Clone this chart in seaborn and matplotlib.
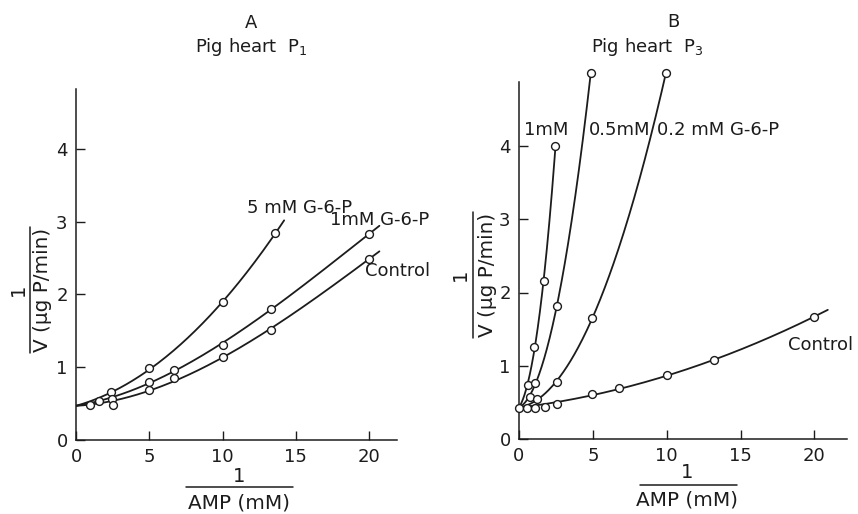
import numpy as np
import pandas as pd
import matplotlib
matplotlib.use("Agg")
import matplotlib.pyplot as plt
import seaborn as sns
from matplotlib.lines import Line2D

# ---------------- data ----------------
# Panel A: Pig heart P1
a_x_5mM = [1.6, 2.4, 5.0, 10.0, 13.6]
a_y_5mM = [0.54, 0.66, 0.99, 1.89, 2.84]
a_x_1mM = [2.45, 5.0, 6.7, 10.0, 13.3, 20.0]
a_y_1mM = [0.56, 0.80, 0.96, 1.31, 1.80, 2.83]
a_x_ctrl = [0.95, 2.5, 5.0, 6.7, 10.0, 13.3, 20.0]
a_y_ctrl = [0.48, 0.48, 0.68, 0.85, 1.14, 1.51, 2.49]
a_intercept = 0.47

# Panel B: Pig heart P3
b_x_1mM = [0.6, 1.04, 1.67, 2.47]
b_y_1mM = [0.74, 1.25, 2.16, 4.0]
b_x_05mM = [0.75, 1.08, 2.56, 4.86]
b_y_05mM = [0.57, 0.77, 1.81, 5.0]
b_x_02mM = [1.2, 2.55, 4.95, 9.95]
b_y_02mM = [0.54, 0.78, 1.65, 5.0]
b_x_ctrl = [0.0, 0.52, 1.08, 1.76, 2.6, 4.95, 6.76, 10.05, 13.2, 20.0]
b_y_ctrl = [0.43, 0.42, 0.42, 0.44, 0.48, 0.62, 0.70, 0.87, 1.08, 1.67]
b_intercept = 0.43

x_ticks = [0, 5, 10, 15, 20]
y_ticks = [0, 1, 2, 3, 4]

# ---------------- style ----------------
sns.set_theme(style="ticks")
plt.rcParams["font.family"] = ["DejaVu Sans"]
plt.rcParams["mathtext.fontset"] = "dejavusans"
INK = "#1c1c1c"

W, H = 858, 514
fig = plt.figure(figsize=(W / 100, H / 100), dpi=100)
fig.patch.set_facecolor("white")


def fpos(px, py):
    return px / W, 1 - py / H


def draw_series(ax, xs, ys, intercept, x_end, deg=2):
    fx = np.r_[0.0, xs]
    fy = np.r_[intercept, ys]
    w = np.r_[6.0, np.ones(len(xs))]
    coef = np.polyfit(fx, fy, deg, w=w)
    grid = np.linspace(0, x_end, 200)
    curve = pd.DataFrame({"x": grid, "y": np.polyval(coef, grid)})
    sns.lineplot(data=curve, x="x", y="y", ax=ax, color=INK, lw=1.3,
                 sort=False, estimator=None, zorder=2)
    pts = pd.DataFrame({"x": xs, "y": ys})
    sns.scatterplot(data=pts, x="x", y="y", ax=ax, marker="o", s=32,
                    facecolor="white", edgecolor=INK, linewidth=1.0,
                    zorder=3, clip_on=False)


def style_axes(ax, xmax, ymax, spine_top):
    ax.set_xlim(0, xmax)
    ax.set_ylim(0, ymax)
    ax.set_xticks(x_ticks)
    ax.set_yticks(y_ticks)
    ax.set_xlabel("")
    ax.set_ylabel("")
    for s in ["top", "right"]:
        ax.spines[s].set_visible(False)
    for s in ["left", "bottom"]:
        ax.spines[s].set_linewidth(1.1)
        ax.spines[s].set_color(INK)
    ax.spines["left"].set_bounds(0, spine_top)
    ax.tick_params(direction="in", length=6.5, width=1.0, color=INK,
                   labelsize=13, labelcolor=INK, pad=6)
    ax.set_facecolor("white")


def frac_label_y(px_one, px_line, px_text, py_center, py_top, py_bot):
    fig.text(*fpos(px_one, py_center), "1", rotation=90, ha="center",
             va="center", fontsize=14, color=INK)
    x0, y0 = fpos(px_line, py_top)
    x1, y1 = fpos(px_line, py_bot)
    fig.add_artist(Line2D([x0, x1], [y0, y1], color=INK, lw=1.1))
    fig.text(*fpos(px_text, py_center), "V (μg P/min)", rotation=90,
             ha="center", va="center", fontsize=14.4, color=INK)


def frac_label_x(px_center, py_one, py_line, py_text, px_l, px_r):
    fig.text(*fpos(px_center, py_one), "1", ha="center", va="center",
             fontsize=14, color=INK)
    x0, y0 = fpos(px_l, py_line)
    x1, y1 = fpos(px_r, py_line)
    fig.add_artist(Line2D([x0, x1], [y0, y1], color=INK, lw=1.1))
    fig.text(*fpos(px_center, py_text), "AMP (mM)", ha="center",
             va="center", fontsize=14.4, color=INK)


# ---------------- Panel A ----------------
axA = fig.add_axes([76 / W, 1 - 440 / H, (397 - 76) / W, (440 - 89) / H])
draw_series(axA, a_x_5mM, a_y_5mM, a_intercept, 14.2)
draw_series(axA, a_x_1mM, a_y_1mM, a_intercept, 20.7, deg=3)
draw_series(axA, a_x_ctrl, a_y_ctrl, a_intercept, 20.7, deg=3)
style_axes(axA, 21.9, 4.82, 4.82)
axA.text(11.7, 3.18, "5 mM G-6-P", fontsize=13, ha="left", va="center",
         color=INK, clip_on=False)
axA.text(17.3, 3.02, "1mM G-6-P", fontsize=13, ha="left", va="center",
         color=INK, clip_on=False)
axA.text(19.7, 2.32, "Control", fontsize=13, ha="left", va="center",
         color=INK, clip_on=False)

fig.text(*fpos(251, 23), "A", ha="center", va="center", fontsize=13, color=INK)
fig.text(*fpos(251, 47), "Pig heart  P$_1$", ha="center", va="center",
         fontsize=13, color=INK)
frac_label_y(18, 30, 43, 290, 227, 353)
frac_label_x(239, 477, 487, 503, 186, 293)

# ---------------- Panel B ----------------
b_ymax = 5.1
axB = fig.add_axes([519 / W, 1 - 439 / H, (847 - 519) / W, 73.25 * b_ymax / H])
draw_series(axB, b_x_1mM, b_y_1mM, b_intercept, b_x_1mM[-1], deg=3)
draw_series(axB, b_x_05mM, b_y_05mM, b_intercept, b_x_05mM[-1])
draw_series(axB, b_x_02mM, b_y_02mM, b_intercept, b_x_02mM[-1])
draw_series(axB, b_x_ctrl, b_y_ctrl, b_intercept, 20.9)
style_axes(axB, 22.2, b_ymax, 4.87)
axB.text(0.34, 4.22, "1mM", fontsize=13, ha="left", va="center", color=INK)
axB.text(4.7, 4.22, "0.5mM", fontsize=13, ha="left", va="center", color=INK)
axB.text(9.36, 4.22, "0.2 mM G-6-P", fontsize=13, ha="left", va="center",
         color=INK)
axB.text(18.2, 1.28, "Control", fontsize=13, ha="left", va="center",
         color=INK, clip_on=False)

fig.text(*fpos(673, 22), "B", ha="center", va="center", fontsize=13, color=INK)
fig.text(*fpos(647, 47), "Pig heart  P$_3$", ha="center", va="center",
         fontsize=13, color=INK)
frac_label_y(460, 473, 487, 275, 212, 338)
frac_label_x(687, 473, 485, 500, 640, 737)

fig.savefig("out.png", dpi=100, facecolor="white")
